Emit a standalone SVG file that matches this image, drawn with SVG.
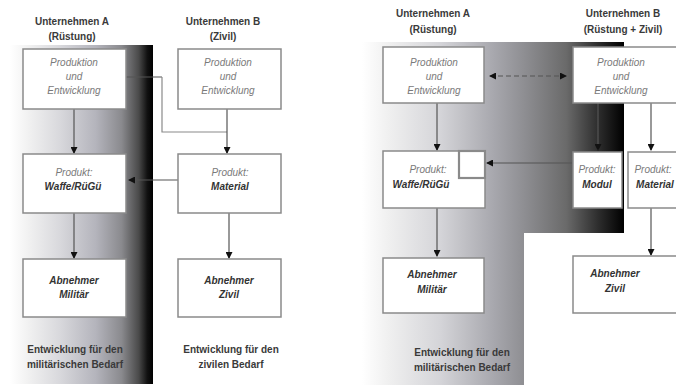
<svg xmlns="http://www.w3.org/2000/svg" width="676" height="385" viewBox="0 0 676 385">
<defs>
<linearGradient id="gL" x1="10" y1="0" x2="153" y2="0" gradientUnits="userSpaceOnUse">
<stop offset="0" stop-color="#ffffff"/>
<stop offset="0.12" stop-color="#f2f2f2"/>
<stop offset="0.35" stop-color="#d8d8dc"/>
<stop offset="0.6" stop-color="#b4b4bc"/>
<stop offset="0.78" stop-color="#8a8a8e"/>
<stop offset="0.9" stop-color="#4a4a4a"/>
<stop offset="0.96" stop-color="#111"/>
<stop offset="1" stop-color="#000"/>
</linearGradient>
<linearGradient id="gR" x1="362" y1="0" x2="624" y2="0" gradientUnits="userSpaceOnUse">
<stop offset="0" stop-color="#ffffff"/>
<stop offset="0.1" stop-color="#f0f0f0"/>
<stop offset="0.3" stop-color="#d4d4d8"/>
<stop offset="0.5" stop-color="#a8a8ae"/>
<stop offset="0.62" stop-color="#8e8e92"/>
<stop offset="0.78" stop-color="#6a6a6a"/>
<stop offset="0.9" stop-color="#2e2e2e"/>
<stop offset="1" stop-color="#000"/>
</linearGradient>
<marker id="ah" markerWidth="7" markerHeight="7" refX="6" refY="3.5" orient="auto" markerUnits="userSpaceOnUse">
<path d="M0,0 L7,3.5 L0,7 Z" fill="#111"/>
</marker>
<marker id="ahs" markerWidth="7" markerHeight="7" refX="1" refY="3.5" orient="auto" markerUnits="userSpaceOnUse">
<path d="M7,0 L0,3.5 L7,7 Z" fill="#111"/>
</marker>
<style>
.box{fill:#fff;stroke:#8a8a8a;stroke-width:1.5}
.t{font-family:"Liberation Sans",Arial,sans-serif;font-size:10px;text-anchor:middle}
.h{font-weight:bold;fill:#3a3a3a}
.i{font-style:italic;fill:#7a7a7a}
.bi{font-style:italic;font-weight:bold;fill:#333}
.c{fill:none;stroke:#555;stroke-width:1.2}
.cl{fill:none;stroke:#8a8a8a;stroke-width:1.2}
</style>
</defs>
<rect width="676" height="385" fill="#fff"/>
<g id="bgLeft">
<rect x="10" y="45" width="143" height="339" fill="url(#gL)"/>
</g>
<g id="bgRight">
<path d="M362,42 H624 V233 H524 V385 H362 Z" fill="url(#gR)"/>
</g>
<g id="titles">
<text class="t h" x="72" y="25">Unternehmen A</text>
<text class="t h" x="72" y="40">(Rüstung)</text>
<text class="t h" x="223" y="25">Unternehmen B</text>
<text class="t h" x="223" y="40">(Zivil)</text>
<text class="t h" x="433" y="17">Unternehmen A</text>
<text class="t h" x="433" y="33">(Rüstung)</text>
<text class="t h" x="623" y="17">Unternehmen B</text>
<text class="t h" x="623" y="33">(Rüstung + Zivil)</text>
</g>
<g id="connectors">
<path class="c" d="M126,77 H162" />
<path class="cl" d="M162,77 V132 H227" />
<path class="c" d="M74,109 V153" marker-end="url(#ah)"/>
<path class="c" d="M227,109 V153" marker-end="url(#ah)"/>
<path class="c" d="M178,180 H129" marker-end="url(#ah)"/>
<path class="c" d="M74,213 V258" marker-end="url(#ah)"/>
<path class="c" d="M229,213 V258" marker-end="url(#ah)"/>
<path class="c" d="M490,76 H566" stroke-dasharray="5,3" marker-start="url(#ahs)" marker-end="url(#ah)"/>
<path class="c" d="M437,103 V150" marker-end="url(#ah)"/>
<path class="c" d="M598,103 V150" marker-end="url(#ah)"/>
<path class="c" d="M651,103 V150" marker-end="url(#ah)"/>
<path class="c" d="M572,163 H487" marker-end="url(#ah)"/>
<path class="c" d="M437,208 V256" marker-end="url(#ah)"/>
<path class="c" d="M651,208 V255" marker-end="url(#ah)"/>
</g>
<g id="L_A_PE">
<rect class="box" x="23" y="49" width="103" height="60"/>
<text class="t i" x="74" y="66">Produktion</text>
<text class="t i" x="74" y="80">und</text>
<text class="t i" x="74" y="94">Entwicklung</text>
</g>
<g id="L_B_PE">
<rect class="box" x="178" y="49" width="103" height="60"/>
<text class="t i" x="228" y="66">Produktion</text>
<text class="t i" x="228" y="80">und</text>
<text class="t i" x="228" y="94">Entwicklung</text>
</g>
<g id="L_A_Produkt">
<rect class="box" x="23" y="154" width="103" height="59"/>
<text class="t i" x="74" y="176">Produkt:</text>
<text class="t bi" x="73" y="190">Waffe/RüGü</text>
</g>
<g id="L_B_Produkt">
<rect class="box" x="178" y="154" width="103" height="59"/>
<text class="t i" x="230" y="176">Produkt:</text>
<text class="t bi" x="230" y="190">Material</text>
</g>
<g id="L_A_Abnehmer">
<rect class="box" x="23" y="259" width="103" height="58"/>
<text class="t bi" x="74" y="284">Abnehmer</text>
<text class="t bi" x="74" y="298">Militär</text>
</g>
<g id="L_B_Abnehmer">
<rect class="box" x="178" y="259" width="103" height="58"/>
<text class="t bi" x="229" y="284">Abnehmer</text>
<text class="t bi" x="229" y="298">Zivil</text>
</g>
<g id="L_A_label">
<text class="t h" x="75" y="353">Entwicklung für den</text>
<text class="t h" x="75" y="368">militärischen Bedarf</text>
</g>
<g id="L_B_label">
<text class="t h" x="231" y="353">Entwicklung für den</text>
<text class="t h" x="231" y="368">zivilen Bedarf</text>
</g>
<g id="R_A_PE">
<rect class="box" x="383" y="47" width="101" height="56"/>
<text class="t i" x="434" y="66">Produktion</text>
<text class="t i" x="434" y="80">und</text>
<text class="t i" x="434" y="94">Entwicklung</text>
</g>
<g id="R_B_PE">
<rect class="box" x="573" y="47" width="110" height="56"/>
<text class="t i" x="621" y="66">Produktion</text>
<text class="t i" x="621" y="80">und</text>
<text class="t i" x="621" y="94">Entwicklung</text>
</g>
<g id="R_A_Produkt">
<rect class="box" x="383" y="151" width="102" height="57"/>
<rect x="459" y="151" width="26" height="27" fill="#fff" stroke="#8a8a8a" stroke-width="2.2"/>
<text class="t i" x="428" y="173">Produkt:</text>
<text class="t bi" x="421" y="188">Waffe/RüGü</text>
</g>
<g id="R_B_Modul">
<rect class="box" x="573" y="152" width="49" height="56"/>
<text class="t i" x="597" y="173">Produkt:</text>
<text class="t bi" x="597" y="188">Modul</text>
</g>
<g id="R_B_Material">
<rect class="box" x="628" y="152" width="56" height="56"/>
<text class="t i" x="653" y="173">Produkt:</text>
<text class="t bi" x="655" y="188">Material</text>
</g>
<g id="R_A_Abnehmer">
<rect class="box" x="383" y="258" width="101" height="55"/>
<text class="t bi" x="432" y="278">Abnehmer</text>
<text class="t bi" x="432" y="293">Militär</text>
</g>
<g id="R_B_Abnehmer">
<rect class="box" x="573" y="256" width="110" height="57"/>
<text class="t bi" x="615" y="277">Abnehmer</text>
<text class="t bi" x="615" y="292">Zivil</text>
</g>
<g id="R_A_label">
<text class="t h" x="462" y="356">Entwicklung für den</text>
<text class="t h" x="462" y="371">militärischen Bedarf</text>
</g>
</svg>
